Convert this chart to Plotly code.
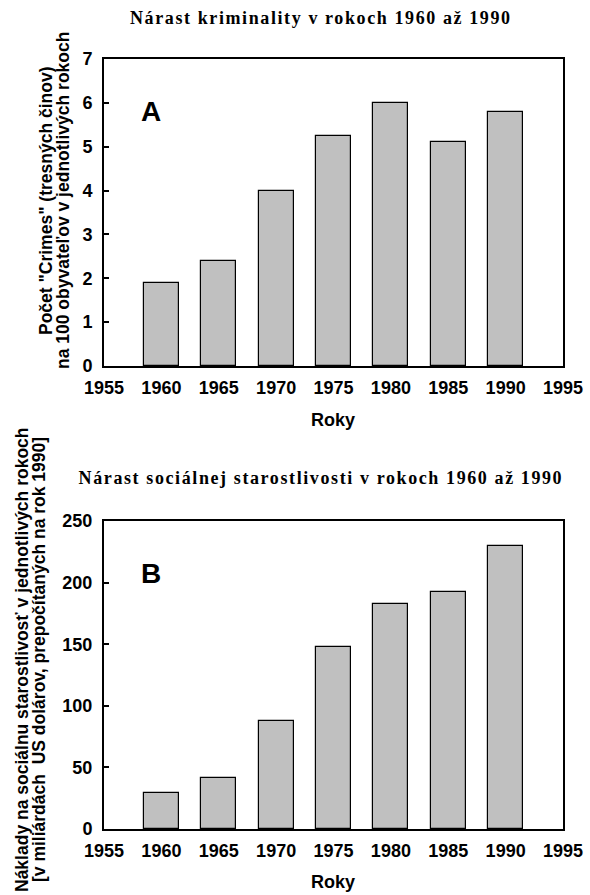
import plotly.graph_objects as go

years = [1960, 1965, 1970, 1975, 1980, 1985, 1990]
crime = [1.9, 2.4, 4.0, 5.25, 6.0, 5.1, 5.8]
welfare = [29, 41, 88, 148, 183, 192, 230]

x_ticks = [1955, 1960, 1965, 1970, 1975, 1980, 1985, 1990, 1995]
ya_ticks = [0, 1, 2, 3, 4, 5, 6, 7]
yb_ticks = [0, 50, 100, 150, 200, 250]

title_a = "Nárast kriminality v rokoch 1960 až 1990"
title_b = "Nárast sociálnej starostlivosti v rokoch 1960 až 1990"
ylab_a = ['Počet "Crimes" (tresných činov)', "na 100 obyvateľov v jednotlivých rokoch"]
ylab_b = ["Náklady na sociálnu starostlivosť v jednotlivých rokoch",
          "[v miliárdách  US dolárov, prepočítaných na rok 1990]"]
xlab = "Roky"

W, H = 590, 895
SANS = "Liberation Sans"
SERIF = "Liberation Serif"

def px(x):
    return x / W

def py(y):
    return (H - y) / H

fig = go.Figure()
bar_style = dict(marker=dict(color="#c0c0c0", line=dict(color="black", width=1.2)),
                 width=3.05, showlegend=False, hoverinfo="x+y")
fig.add_trace(go.Bar(x=years, y=crime, xaxis="x", yaxis="y", **bar_style))
fig.add_trace(go.Bar(x=years, y=welfare, xaxis="x2", yaxis="y2", **bar_style))

tickfont = dict(family=SANS, size=18, color="black", weight="bold")
xcommon = dict(range=[1955, 1995], tickvals=x_ticks, showline=True, linecolor="black",
               linewidth=2, mirror=True, ticks="", showgrid=False, zeroline=False,
               tickfont=tickfont, fixedrange=True, domain=[px(104), px(563)],
               ticklabelstandoff=4, automargin=False)
ycommon = dict(showline=True, linecolor="black", linewidth=2, mirror=True, ticks="inside",
               ticklen=5, tickwidth=1.5, tickcolor="black", showgrid=False, zeroline=False,
               tickfont=tickfont, fixedrange=True, ticklabelstandoff=6, automargin=False)

fig.update_layout(
    width=W, height=H, margin=dict(l=0, r=0, t=0, b=0, autoexpand=False),
    paper_bgcolor="white", plot_bgcolor="white", bargap=0,
    xaxis=dict(anchor="y", **xcommon),
    yaxis=dict(anchor="x", range=[0, 7], tickvals=ya_ticks,
               domain=[py(366), py(59)], **ycommon),
    xaxis2=dict(anchor="y2", **xcommon),
    yaxis2=dict(anchor="x2", range=[0, 250], tickvals=yb_ticks,
                domain=[py(829), py(521)], **ycommon),
)

ann = []
def text(t, x, y, size, family=SANS, angle=0):
    ann.append(dict(text=t, x=px(x), y=py(y), xref="paper", yref="paper",
                    showarrow=False, xanchor="center", yanchor="middle", textangle=angle,
                    font=dict(family=family, size=size, color="black", weight="bold")))

text(title_a, 321, 18, 18, SERIF)
text(title_b, 321, 478, 18, SERIF)
text(ylab_a[0], 46, 201, 17.5, angle=-90)
text(ylab_a[1], 63, 201, 17.5, angle=-90)
text(ylab_b[0], 22, 660, 17.5, angle=-90)
text(ylab_b[1], 39, 660, 17.5, angle=-90)
text(xlab, 333, 420, 18)
text(xlab, 333, 882, 18)
text("A", 151, 112, 28)
text("B", 151, 573, 28)
fig.update_layout(annotations=ann)

post = """
document.body.style.margin = '0';
document.querySelectorAll('text.annotation-text').forEach(function(t){
  if ((t.style.fontFamily || '').indexOf('Serif') >= 0) { t.style.letterSpacing = '1.6px'; }
});
"""
fig.write_html("out.html", post_script=post, config={"displayModeBar": False})
